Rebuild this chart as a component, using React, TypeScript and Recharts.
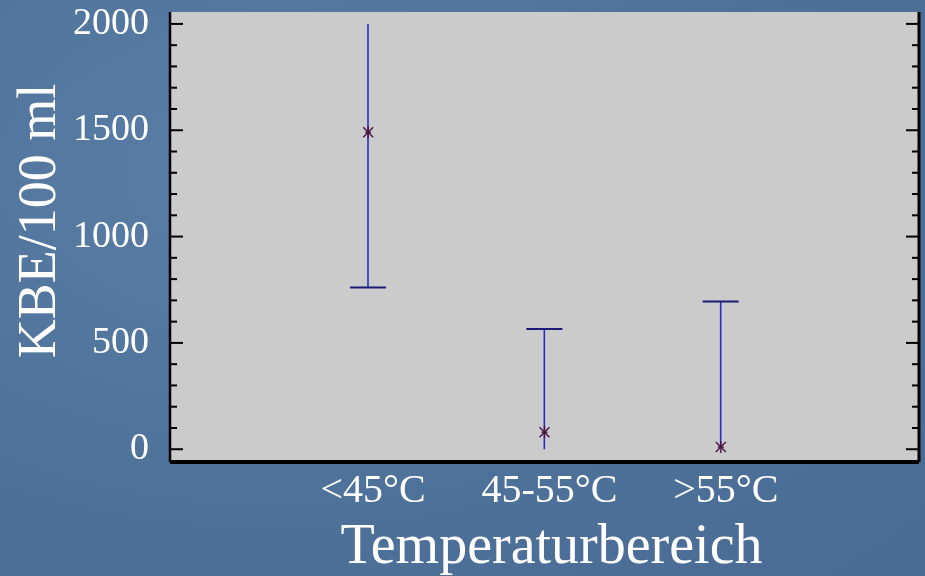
import React from 'react';
import { ComposedChart, Bar, Scatter, XAxis, YAxis, CartesianGrid } from 'recharts';

const categories = ['<45°C', '45-55°C', '>55°C'];
const medians = [1490, 80, 10];
const lows = [760, 0, 10];
const highs = [2000, 565, 695];
const capEnds = ['low', 'high', 'high'];
const yTicks = [0, 100, 200, 300, 400, 500, 600, 700, 800, 900, 1000, 1100, 1200, 1300, 1400, 1500, 1600, 1700, 1800, 1900, 2000];

const data = categories.map((cat, i) => ({
  cat,
  median: medians[i],
  range: [lows[i], highs[i]],
  cap: capEnds[i],
}));

const serif = '"Liberation Serif", "DejaVu Serif", serif';

const Whisker = (props: any) => {
  const { x, y, width, height, payload } = props;
  const cx = x + width / 2;
  const top = Math.min(y, y + height);
  const bottom = Math.max(y, y + height);
  const capY = payload.cap === 'low' ? bottom : top;
  return (
    <g>
      <line x1={cx} x2={cx} y1={top} y2={bottom} stroke="#2b2bc0" strokeWidth={1.6} />
      <line x1={x} x2={x + width} y1={capY} y2={capY} stroke="#1c1c78" strokeWidth={2} />
    </g>
  );
};

const Star = (props: any) => {
  const { cx, cy } = props;
  const r = 5;
  const c = '#4a1545';
  return (
    <g stroke={c} strokeWidth={1.4}>
      <line x1={cx - r} x2={cx + r} y1={cy - r} y2={cy + r} />
      <line x1={cx - r} x2={cx + r} y1={cy + r} y2={cy - r} />
      <line x1={cx} x2={cx} y1={cy - r - 1} y2={cy + r + 1} />
      <line x1={cx - 3} x2={cx + 3} y1={cy} y2={cy} />
    </g>
  );
};

const LeftTick = (props: any) => {
  const { x, y, payload } = props;
  const major = payload.value % 500 === 0;
  return (
    <g>
      <line x1={x} x2={x + (major ? 13 : 7)} y1={y} y2={y} stroke="#000" strokeWidth={2} />
      {major && (
        <text x={x - 21} y={y + 10} textAnchor="end" fill="#fff" fontSize={38} fontFamily={serif}>
          {payload.value}
        </text>
      )}
    </g>
  );
};

const RightTick = (props: any) => {
  const { x, y, payload } = props;
  const major = payload.value % 500 === 0;
  return <line x1={x} x2={x - (major ? 13 : 7)} y1={y} y2={y} stroke="#000" strokeWidth={2} />;
};

const CatTick = (props: any) => {
  const { x, y, payload } = props;
  return (
    <text x={x + 5} y={y + 40} textAnchor="middle" fill="#fff" fontSize={40} fontFamily={serif}>
      {payload.value}
    </text>
  );
};

export default function App() {
  return (
    <div
      style={{
        position: 'fixed',
        left: 0,
        top: 0,
        width: 925,
        height: 576,
        background: 'radial-gradient(ellipse at 30% 30%, #5a7ea6 0%, #4e7199 60%, #496b93 100%)',
      }}
    >
      <ComposedChart width={925} height={576} data={data} margin={{ top: 12, right: 0, bottom: 0, left: 0 }}>
        <CartesianGrid horizontal={false} vertical={false} fill="#cbcbcb" stroke="none" />
        <XAxis
          dataKey="cat"
          height={114}
          padding={{ left: 110, right: 110 }}
          axisLine={{ stroke: '#000', strokeWidth: 4 }}
          tickLine={false}
          tickSize={0}
          tickMargin={0}
          tick={<CatTick />}
          interval={0}
          label={(p: any) => (
            <text
              x={p.viewBox.x + p.viewBox.width / 2 + 7}
              y={p.viewBox.y + 101}
              textAnchor="middle"
              fill="#fff"
              fontSize={56}
              fontFamily={serif}
            >
              Temperaturbereich
            </text>
          )}
        />
        <XAxis
          xAxisId="top"
          dataKey="cat"
          orientation="top"
          height={0}
          tick={false}
          tickLine={false}
          padding={{ left: 110, right: 110 }}
          axisLine={{ stroke: '#000', strokeWidth: 2.5 }}
        />
        <YAxis
          type="number"
          width={170}
          domain={[-60, 2056]}
          ticks={yTicks}
          allowDataOverflow
          interval={0}
          axisLine={{ stroke: '#000', strokeWidth: 2.5 }}
          tickLine={false}
          tickSize={0}
          tickMargin={0}
          tick={<LeftTick />}
          label={(p: any) => (
            <text
              x={55}
              y={221}
              transform="rotate(-90, 55, 221)"
              textAnchor="middle"
              fill="#fff"
              fontSize={54}
              fontFamily={serif}
            >
              KBE/100 ml
            </text>
          )}
        />
        <YAxis
          yAxisId="r"
          orientation="right"
          type="number"
          width={6}
          domain={[-60, 2056]}
          ticks={yTicks}
          allowDataOverflow
          interval={0}
          axisLine={{ stroke: '#000', strokeWidth: 3 }}
          tickLine={false}
          tickSize={0}
          tickMargin={0}
          tick={<RightTick />}
        />
        <Bar dataKey="range" barSize={36} shape={<Whisker />} isAnimationActive={false} />
        <Scatter dataKey="median" shape={<Star />} isAnimationActive={false} />
      </ComposedChart>
    </div>
  );
}
